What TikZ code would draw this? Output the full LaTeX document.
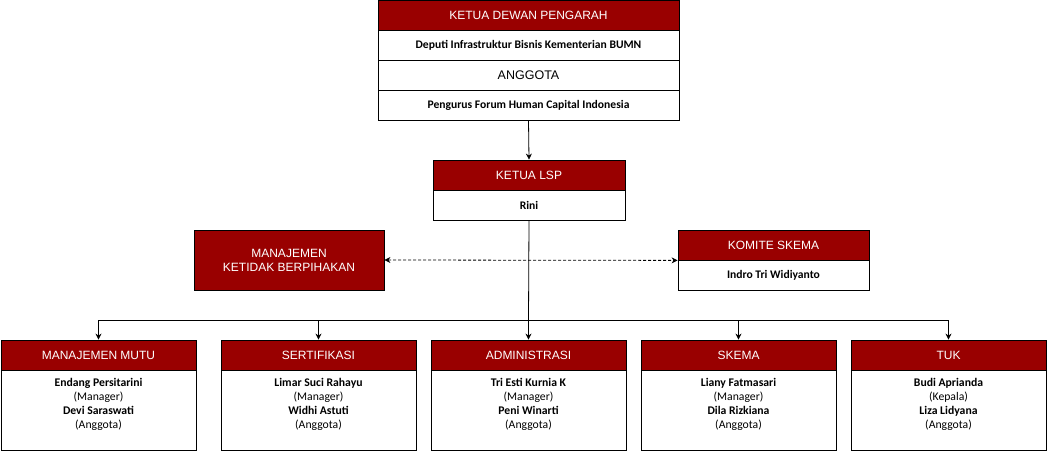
\documentclass[tikz,border=0pt]{standalone}
\usepackage{fontspec}
\setmainfont{Carlito}
\newfontfamily\hdrfont{Liberation Sans}
\usetikzlibrary{arrows.meta}
\definecolor{hdrred}{HTML}{990000}
\tikzset{
  hdr/.style={draw=black, fill=hdrred, text=white, font=\hdrfont\fontsize{12}{14}\selectfont, inner sep=0pt, line width=0.8pt},
  row/.style={draw=black, fill=white, inner sep=0pt, line width=0.8pt, font=\bfseries\fontsize{11.6}{13}\selectfont},
  bodytxt/.style={align=center, inner sep=0pt, font=\fontsize{11.7}{14}\selectfont},
  conn/.style={draw=black, line width=0.8pt, -{Stealth[length=6pt,width=6pt]}},
  dconn/.style={draw=black, line width=0.8pt, dash pattern=on 3pt off 2pt, {Stealth[length=6pt,width=6pt]}-{Stealth[length=6pt,width=6pt]}}
}
\begin{document}
\begin{tikzpicture}[x=1pt,y=-1pt]
\useasboundingbox (0,0) rectangle (1047,452);
% top block
\node[hdr, minimum width=301, minimum height=30] (kdp) at (528.5,15) {KETUA DEWAN PENGARAH};
\node[row, minimum width=301, minimum height=30] (kdp1) at (528.5,45) {Deputi Infrastruktur Bisnis Kementerian BUMN};
\node[row, minimum width=301, minimum height=30, font=\hdrfont\fontsize{12.5}{13}\selectfont] (kdp2) at (528.5,75) {ANGGOTA};
\node[row, minimum width=301, minimum height=30] (kdp3) at (528.5,105) {Pengurus Forum Human Capital Indonesia};
% ketua lsp
\node[hdr, minimum width=192, minimum height=30] (klsp) at (529,175) {KETUA LSP};
\node[row, minimum width=192, minimum height=30] (klsp1) at (529,205) {Rini};
% manajemen ketidak berpihakan
\node[hdr, minimum width=190, minimum height=60, align=center] (mkb) at (289,260) {MANAJEMEN\\KETIDAK BERPIHAKAN};
% komite skema
\node[hdr, minimum width=191, minimum height=30] (ks) at (773.5,245) {KOMITE SKEMA};
\node[row, minimum width=191, minimum height=30] (ks1) at (773.5,275) {Indro Tri Widiyanto};
% bottom boxes
\foreach \nm/\cx/\title/\a/\ar/\b in {
  mm/98.5/MANAJEMEN MUTU/Endang Persitarini/Manager/Devi Saraswati,
  sf/318.5/SERTIFIKASI/Limar Suci Rahayu/Manager/Widhi Astuti,
  ad/528.5/ADMINISTRASI/Tri Esti Kurnia K/Manager/Peni Winarti,
  sk/738.5/SKEMA/Liany Fatmasari/Manager/Dila Rizkiana,
  tk/948.5/TUK/Budi Aprianda/Kepala/Liza Lidyana}{
  \node[hdr, minimum width=195, minimum height=30] (\nm) at (\cx,355) {\title};
  \node[row, minimum width=195, minimum height=80] (\nm-b) at (\cx,410) {};
  \node[bodytxt] (\nm-t) at (\cx,404) {\textbf{\a}\\(\ar)\\\textbf{\b}\\(Anggota)};
  \coordinate (\nm-j) at (\cx,320);
}
% connectors
\draw[conn] (kdp3.south) -- (klsp.north);
\draw[line width=0.8pt] (klsp1.south) -- (ad-j);
\draw[line width=0.8pt] (mm-j) -- (tk-j);
\foreach \nm in {mm,sf,ad,sk,tk}{
  \draw[conn] (\nm-j) -- (\nm.north);
}
\draw[dconn] (mkb.east) -- (ks.south west);
\end{tikzpicture}
\end{document}
